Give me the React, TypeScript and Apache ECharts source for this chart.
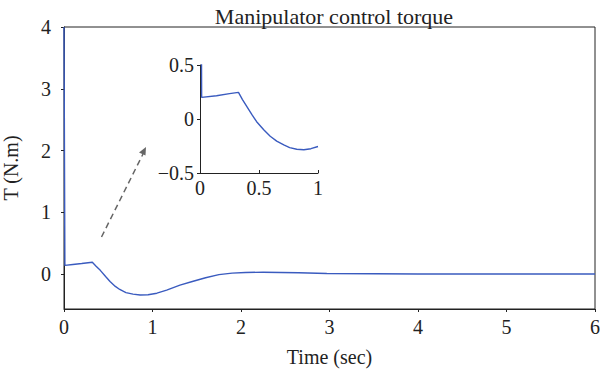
import React, { useEffect, useRef } from "react";
import * as echarts from "echarts";

const titleText = "Manipulator control torque";
const xName = "Time (sec)";
const yName = "T (N.m)";

// main response (time, torque)
const mainTime = [0, 0.01, 0.1, 0.2, 0.32, 0.36, 0.41, 0.47, 0.52, 0.58, 0.63, 0.7, 0.78, 0.86, 0.95, 1.05, 1.16, 1.31, 1.45, 1.6, 1.75, 1.9, 2.05, 2.25, 2.45, 2.65, 2.97, 3.5, 4, 5, 6];
const mainTorque = [4.0, 0.14, 0.155, 0.17, 0.19, 0.13, 0.06, -0.04, -0.12, -0.2, -0.25, -0.3, -0.325, -0.34, -0.335, -0.31, -0.26, -0.18, -0.12, -0.06, -0.01, 0.015, 0.025, 0.03, 0.025, 0.02, 0.01, 0.004, 0.0, 0.0, 0.0];

// zoomed inset (first second)
const insetTime = [0, 0.014, 0.14, 0.25, 0.326, 0.36, 0.4, 0.44, 0.48, 0.54, 0.595, 0.65, 0.71, 0.76, 0.82, 0.88, 0.94, 1.0];
const insetTorque = [4.0, 0.2, 0.215, 0.235, 0.247, 0.18, 0.11, 0.04, -0.025, -0.1, -0.16, -0.205, -0.24, -0.265, -0.28, -0.285, -0.275, -0.255];

const mainYTicks = [0, 1, 2, 3, 4];

const FONT = "'Liberation Serif', 'Times New Roman', serif";
const LINE = "#3a5bbf";
const FS = 20;

export default function App() {
  const ref = useRef<HTMLDivElement>(null);
  useEffect(() => {
    if (!ref.current) return;
    const chart = echarts.init(ref.current, undefined, { renderer: "svg" });
    const mainData = mainTime.map((t, i) => [t, mainTorque[i]]);
    const insetData = insetTime.map((t, i) => [t, insetTorque[i]]);
    const axisCommon = {
      axisLine: { show: true, onZero: false, lineStyle: { color: "#222", width: 1 } },
      splitLine: { show: false },
    };
    chart.setOption({
      animation: false,
      backgroundColor: "#fff",
      title: {
        text: titleText,
        left: 329,
        textAlign: "center",
        top: 0,
        textStyle: { fontFamily: FONT, fontWeight: "normal", fontSize: 22, color: "#222" },
      },
      grid: [
        { left: 64, right: 5, top: 27, bottom: 68, show: true, borderColor: "#222", borderWidth: 1, containLabel: false, outerBoundsMode: "none" },
        { left: 200, width: 118, top: 65, height: 108, containLabel: false, outerBoundsMode: "none" },
      ],
      xAxis: [
        {
          ...axisCommon,
          type: "value",
          gridIndex: 0,
          min: 0,
          max: 6,
          interval: 1,
          name: xName,
          nameLocation: "middle",
          nameGap: 38,
          nameTextStyle: { fontFamily: FONT, fontSize: FS, color: "#222" },
          axisTick: { show: true, length: 3, inside: false, lineStyle: { color: "#222" } },
          axisLabel: { fontFamily: FONT, fontSize: FS, color: "#222", margin: 8 },
        },
        {
          ...axisCommon,
          type: "value",
          gridIndex: 1,
          min: 0,
          max: 1,
          interval: 0.5,
          axisTick: { show: true, length: 3, inside: true, lineStyle: { color: "#222" } },
          axisLabel: { fontFamily: FONT, fontSize: FS, color: "#222", margin: 5 },
        },
      ],
      yAxis: [
        {
          ...axisCommon,
          type: "value",
          gridIndex: 0,
          min: -0.566,
          max: 4,
          name: yName,
          nameLocation: "middle",
          nameGap: 43,
          nameRotate: 90,
          nameTextStyle: { fontFamily: FONT, fontSize: FS, color: "#222" },
          axisTick: { show: true, length: 3, customValues: mainYTicks, lineStyle: { color: "#222" } },
          axisLabel: { fontFamily: FONT, fontSize: FS, color: "#222", margin: 13, customValues: mainYTicks },
        },
        {
          ...axisCommon,
          type: "value",
          gridIndex: 1,
          min: -0.5,
          max: 0.5,
          interval: 0.5,
          axisTick: { show: true, length: 3, lineStyle: { color: "#222" } },
          axisLabel: {
            fontFamily: FONT,
            fontSize: FS,
            color: "#222",
            margin: 6,
            formatter: (v: number) => (v < 0 ? "\u2212" + String(-v) : String(v)),
          },
        },
      ],
      series: [
        {
          type: "line",
          xAxisIndex: 0,
          yAxisIndex: 0,
          data: mainData,
          showSymbol: false,
          lineStyle: { color: LINE, width: 1.4 },
          z: 3,
        },
        {
          type: "line",
          xAxisIndex: 1,
          yAxisIndex: 1,
          data: insetData,
          showSymbol: false,
          clip: true,
          lineStyle: { color: LINE, width: 1.4 },
          z: 3,
        },
      ],
      graphic: [
        {
          type: "line",
          shape: { x1: 101.5, y1: 237, x2: 143, y2: 154 },
          style: { stroke: "#666", lineWidth: 1.5, lineDash: [6, 4] },
        },
        {
          type: "polygon",
          shape: { points: [[146, 147], [139, 152.5], [145.5, 155.5]] },
          style: { fill: "#666" },
        },
      ],
    });
    return () => chart.dispose();
  }, []);
  return (
    <div
      ref={ref}
      style={{ position: "fixed", left: 0, top: 0, width: 600, height: 377 }}
    />
  );
}
